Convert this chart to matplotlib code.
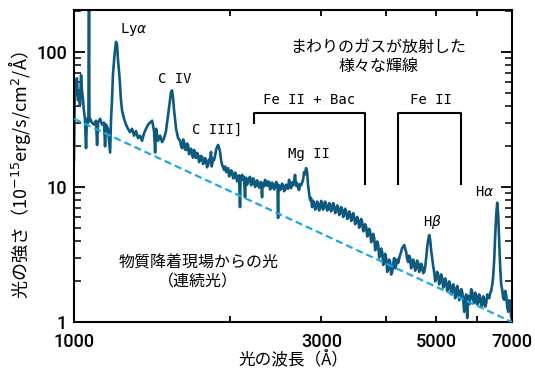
import matplotlib
matplotlib.use('Agg')
import matplotlib.pyplot as plt
from matplotlib.ticker import FixedLocator, FixedFormatter, NullLocator, LogLocator, NullFormatter

# --- colours / fonts ---
spec_color = '#0e5a7e'
cont_color = '#1ca8e4'
jp_font = ['Noto Sans CJK JP', 'DejaVu Sans']
line_font = ['DejaVu Sans Mono']

# --- composite spectrum: (wavelength A, flux 1e-15 erg/s/cm2/A) ---
seg_lya = [(1000, 15.8), (1004, 62), (1009, 48), (1013, 64), (1018, 44), (1022, 52), (1027, 40.5),
           (1032, 67.6), (1036, 52), (1041, 44), (1045, 37), (1050, 32), (1055, 19.4), (1059, 32),
           (1064, 30), (1066, 30), (1069, 260), (1071, 31), (1074, 32), (1083, 30), (1093, 29),
           (1103, 31), (1108, 20.5), (1113, 30), (1123, 32), (1133, 29), (1143, 30), (1148, 20),
           (1153, 29), (1163, 27), (1174, 18), (1179, 32), (1184, 44), (1189, 68), (1195, 87),
           (1200, 103), (1205, 119), (1211, 113), (1216, 87), (1222, 71), (1227, 57), (1232, 44),
           (1238, 37), (1249, 32), (1260, 29), (1271, 27), (1283, 25.5), (1294, 27), (1306, 24),
           (1317, 26), (1329, 23), (1341, 24), (1353, 22), (1365, 25), (1377, 27), (1390, 29),
           (1402, 30), (1415, 31), (1427, 26), (1434, 18), (1440, 27), (1453, 22), (1466, 24),
           (1479, 21.5), (1492, 23)]
seg_civ = [(1505, 26), (1519, 34), (1532, 44), (1539, 50.6), (1546, 52), (1553, 45.6), (1560, 37),
           (1574, 27), (1588, 23), (1602, 22), (1610, 20.0), (1617, 19.4), (1624, 22.5), (1631, 21.5),
           (1638, 19.0), (1646, 18.8), (1653, 21.0), (1660, 20.5), (1667, 17.5), (1675, 18),
           (1682, 19.2), (1690, 17.3), (1697, 16.5), (1705, 18.8), (1712, 17.8), (1720, 16.4),
           (1728, 17.9), (1736, 17.3), (1743, 15.3), (1751, 15.8), (1759, 17.0), (1767, 16.7),
           (1774, 14.8), (1782, 15.1), (1790, 16.4), (1798, 15.8), (1806, 14.0), (1814, 14.6),
           (1822, 16.0), (1830, 15.3), (1838, 18.2), (1843, 14.2), (1847, 14.6), (1855, 16.2),
           (1863, 15.8), (1871, 17.0), (1880, 18.8), (1888, 19.8), (1897, 20.5), (1905, 19.5),
           (1914, 18.2), (1922, 15.8), (1931, 14.6), (1940, 14.0), (1948, 13.4), (1957, 14.2),
           (1966, 12.9), (1974, 13.3), (1983, 13.8), (1992, 12.0), (2001, 12.3), (2010, 13.3),
           (2019, 12.9), (2028, 11.6), (2037, 11.7), (2046, 12.8), (2055, 12.3), (2064, 11.0),
           (2073, 11.3), (2082, 12.2), (2091, 7.1), (2096, 11.5), (2101, 11.7), (2110, 12.3),
           (2119, 11.3), (2128, 11.9), (2138, 8.4), (2143, 10.6), (2148, 11.7), (2157, 10.4),
           (2167, 10.9), (2176, 11.6), (2186, 11.9), (2196, 10.3), (2206, 10.5), (2215, 11.6)]
seg_mgii = [(2225, 11.3), (2235, 10.0), (2245, 10.2), (2255, 11.2), (2265, 10.9), (2275, 9.9),
            (2286, 10.3), (2296, 10.9), (2306, 8.4), (2311, 10.4), (2316, 10.7), (2326, 10.1),
            (2337, 11.3), (2347, 10.6), (2358, 10.2), (2368, 11.0), (2379, 10.9), (2389, 9.6),
            (2400, 9.8), (2410, 10.8), (2421, 10.5), (2432, 9.6), (2443, 10.0), (2454, 10.9),
            (2465, 10.7), (2470, 9.9), (2476, 5.9), (2481, 9.7), (2487, 10.3), (2498, 9.5),
            (2509, 9.8), (2520, 10.6), (2532, 10.3), (2543, 9.3), (2554, 9.5), (2565, 10.4),
            (2577, 10.2), (2588, 9.7), (2600, 11.3), (2611, 10.2), (2623, 9.8), (2634, 10.8),
            (2646, 10.3), (2658, 11.0), (2670, 12.3), (2682, 10.2), (2694, 10.7), (2706, 9.9),
            (2718, 9.5), (2730, 10.5), (2743, 10.3), (2755, 10.8), (2767, 11.3), (2779, 12.9),
            (2791, 12.4), (2804, 13.8), (2817, 12.9), (2829, 10.3), (2842, 9.0), (2855, 8.0),
            (2867, 8.3), (2880, 7.1), (2893, 7.9), (2906, 7.6), (2919, 6.8), (2932, 7.0),
            (2945, 7.8), (2958, 7.5), (2971, 6.7), (2985, 7.0), (2998, 7.9), (3011, 7.6),
            (3024, 6.8), (3038, 7.1), (3051, 7.8), (3065, 7.4), (3079, 6.7), (3093, 6.8),
            (3107, 7.6), (3121, 7.4), (3134, 6.6), (3148, 6.9), (3163, 7.6), (3177, 7.2),
            (3191, 6.4), (3205, 6.6), (3220, 7.3), (3234, 7.0), (3248, 6.2), (3263, 6.4),
            (3277, 7.1), (3292, 6.8), (3306, 6.0), (3321, 6.3), (3336, 6.9), (3351, 6.5),
            (3366, 5.8), (3381, 6.0), (3396, 6.6), (3411, 6.3), (3426, 5.6), (3442, 5.8),
            (3457, 6.4), (3472, 6.0), (3487, 5.3), (3503, 5.5), (3519, 6.0), (3535, 5.7),
            (3550, 5.0), (3566, 5.2), (3582, 5.8), (3598, 5.5), (3614, 4.7), (3630, 4.8),
            (3646, 5.3), (3663, 5.05), (3679, 4.3), (3695, 4.41), (3711, 4.9), (3728, 4.64),
            (3745, 3.9), (3762, 4.05), (3778, 4.5), (3795, 4.19), (3812, 3.4), (3829, 3.53),
            (3846, 3.95), (3863, 3.72), (3880, 3.0), (3897, 3.14), (3914, 3.5), (3932, 3.30),
            (3950, 2.65), (3967, 2.78), (3985, 3.2), (4003, 2.98), (4021, 2.35), (4039, 2.43),
            (4056, 2.9), (4074, 2.78), (4092, 2.25), (4111, 2.35), (4129, 2.7), (4147, 2.98)]
seg_balmer = [(4165, 2.5), (4184, 2.64), (4203, 2.9), (4222, 2.74), (4240, 2.95), (4258, 3.14),
              (4277, 3.3), (4296, 3.53), (4315, 3.6), (4335, 3.72), (4355, 3.5), (4374, 3.30),
              (4393, 2.95), (4413, 2.78), (4432, 3.1), (4452, 2.98), (4472, 2.5), (4492, 2.60),
              (4512, 2.9), (4532, 2.74), (4552, 2.4), (4572, 2.51), (4592, 2.85), (4613, 2.74),
              (4634, 2.35), (4656, 2.43), (4676, 2.7), (4697, 2.60), (4718, 2.3), (4739, 2.35),
              (4760, 2.55), (4781, 2.98), (4803, 3.6), (4824, 4.05), (4845, 4.41), (4867, 4.05),
              (4888, 3.4), (4910, 2.98), (4932, 2.6), (4954, 2.35), (4976, 2.0), (4998, 2.12),
              (5020, 2.35), (5043, 2.23), (5065, 1.9), (5088, 1.98), (5110, 2.25), (5133, 2.12),
              (5156, 1.8), (5179, 1.88), (5202, 2.1), (5225, 1.98), (5248, 1.7), (5272, 1.79),
              (5296, 2.0), (5319, 1.88), (5342, 1.6), (5366, 1.67), (5390, 1.9), (5414, 1.79),
              (5438, 1.5), (5463, 1.58), (5487, 1.85), (5511, 1.73), (5536, 1.45), (5561, 1.53),
              (5586, 1.75), (5611, 1.67), (5636, 1.45), (5661, 1.19), (5673, 1.45), (5686, 1.51),
              (5711, 1.6), (5737, 1.07), (5750, 1.4), (5762, 1.56), (5788, 1.35), (5814, 1.46),
              (5840, 1.75), (5866, 1.67), (5892, 1.45), (5918, 1.38), (5944, 1.65), (5971, 1.58),
              (5997, 1.35), (6024, 1.41), (6051, 1.6), (6078, 1.51), (6105, 1.3), (6132, 1.34),
              (6159, 1.55), (6187, 1.46), (6214, 1.3), (6242, 1.38), (6270, 1.6), (6298, 1.51),
              (6326, 1.5), (6354, 1.64), (6382, 1.7), (6411, 1.88), (6440, 2.2), (6468, 2.88),
              (6497, 4.41), (6526, 6.2), (6555, 7.65), (6584, 6.2), (6613, 4.05), (6643, 2.51),
              (6672, 1.9), (6702, 1.73), (6732, 1.5), (6762, 1.46), (6792, 1.7), (6822, 1.58),
              (6852, 1.3), (6884, 1.19), (6915, 1.45), (6945, 1.34), (6975, 1.1), (7000, 1.03)]

# power-law continuum (dashed), end points
cont_wave = [1000, 7000]
cont_flux = [32, 1.0]

# Fe II pseudo-continuum brackets
feii_bac_range = [2225, 3650]
feii_range = [4222, 5590]
bracket_top = 35.3
bracket_left_foot = 29.8
bracket_bottom = 10.6

x_ticks = [1000, 2000, 3000, 4000, 5000, 6000, 7000]
x_labels = ['1000', '', '3000', '', '5000', '', '7000']
y_ticks = [1, 10, 100]
y_labels = ['1', '10', '100']

spectrum = seg_lya + seg_civ + seg_mgii + seg_balmer
wave = [p[0] for p in spectrum]
flux = [p[1] for p in spectrum]

# --- figure ---
fig = plt.figure(figsize=(5.35, 3.68), dpi=100)
ax = fig.add_axes([0.1383, 0.125, 0.8187, 0.848])
ax.set_xscale('log')
ax.set_yscale('log')

ax.plot(wave, flux, color=spec_color, lw=1.9, zorder=2)
ax.plot(cont_wave, cont_flux, color=cont_color, lw=1.6, dashes=(3.2, 1.8), zorder=3)

# brackets
ax.plot([feii_bac_range[0], feii_bac_range[0], feii_bac_range[1], feii_bac_range[1]],
        [bracket_left_foot, bracket_top, bracket_top, bracket_bottom], color='black', lw=1.5)
ax.plot([feii_range[0], feii_range[0], feii_range[1], feii_range[1]],
        [bracket_bottom, bracket_top, bracket_top, bracket_bottom], color='black', lw=1.5)

# line labels
lbl = dict(ha='center', va='center', fontsize=10, family=line_font)
ax.text(1306, 146, r'Ly$\alpha$', **lbl)
ax.text(1567, 63, 'C IV', **lbl)
ax.text(1889, 26.5, 'C III]', **lbl)
ax.text(2844, 44, 'Fe II + Bac', **lbl)
ax.text(4888, 44, 'Fe II', **lbl)
ax.text(2844, 17.6, 'Mg II', **lbl)
ax.text(4910, 5.5, r'H$\beta$', **lbl)
ax.text(6197, 9.2, r'H$\alpha$', **lbl)

ax.text(3863, 92, 'まわりのガスが放射した\n様々な輝線', ha='center', va='center',
        fontsize=11.5, family=jp_font, linespacing=1.15)
ax.text(1736, 2.31, '物質降着現場からの光\n（連続光）', ha='center', va='center',
        fontsize=11.5, family=jp_font, linespacing=1.15)

ax.set_xlim(1000, 7000)
ax.set_ylim(1, 205)

ax.xaxis.set_major_locator(FixedLocator(x_ticks))
ax.xaxis.set_major_formatter(FixedFormatter(x_labels))
ax.xaxis.set_minor_locator(NullLocator())
ax.yaxis.set_major_locator(FixedLocator(y_ticks))
ax.yaxis.set_major_formatter(FixedFormatter(y_labels))
ax.yaxis.set_minor_locator(LogLocator(base=10, subs=range(2, 10)))
ax.yaxis.set_minor_formatter(NullFormatter())

ax.tick_params(axis='x', which='major', direction='in', length=4, width=1.3,
               top=True, labelsize=13, pad=8)
ax.tick_params(axis='y', which='major', direction='in', length=8, width=1.3,
               right=True, labelsize=13, pad=5)
ax.tick_params(axis='y', which='minor', direction='in', length=5, width=1.1, right=True)
for lab in ax.get_xticklabels() + ax.get_yticklabels():
    lab.set_family('Roboto')
    lab.set_fontweight('medium')

for s in ax.spines.values():
    s.set_linewidth(1.5)

ax.set_xlabel('光の波長（Å）', family=jp_font, fontsize=12)
ax.xaxis.set_label_coords(0.5, -0.093)
ax.set_ylabel('光の強さ（10$^{-15}$erg/s/cm$^2$/Å）', family=jp_font, fontsize=13)
ax.yaxis.set_label_coords(-0.094, 0.47)

fig.savefig('out.png', dpi=100)
